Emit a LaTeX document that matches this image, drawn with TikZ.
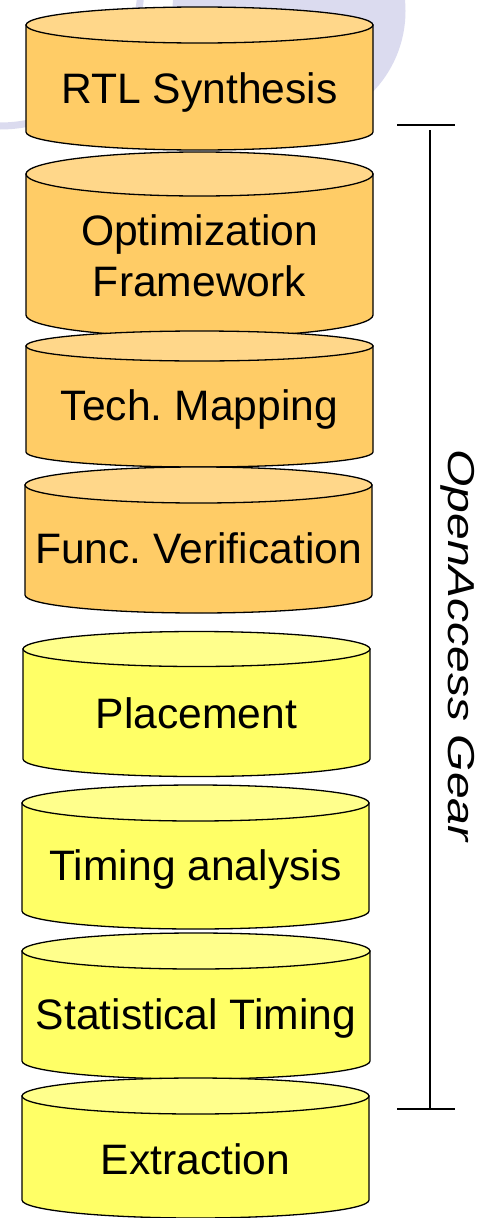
\documentclass[tikz,border=0pt]{standalone}
\usepackage{fontspec}
\setmainfont{Liberation Sans}
\usepackage{graphicx}
\frenchspacing

\definecolor{lav}{RGB}{219,219,239}
\definecolor{goldbody}{RGB}{255,204,102}
\definecolor{goldtop}{RGB}{255,215,138}
\definecolor{lemonbody}{RGB}{255,255,102}
\definecolor{lemontop}{RGB}{255,255,140}

% a drum: #1,#2 left/right x, #3 top centre y, #4 bottom centre y,
% #5 ellipse half height, #6 side colour, #7 lid colour (y given downwards)
\newcommand\drum[7]{%
  \pgfmathsetmacro\drumrx{(#2-#1)/2}%
  \pgfmathsetmacro\drumcx{(#1+#2)/2}%
  \filldraw[drumline, fill=#6] (#1,-#3) -- (#1,-#4)
    arc[start angle=180, end angle=360, x radius=\drumrx pt, y radius=#5 pt]
    -- (#2,-#3) -- cycle;
  \filldraw[drumline, fill=#7] (\drumcx,-#3)
    ellipse[x radius=\drumrx pt, y radius=#5 pt];
}

\begin{document}
\begin{tikzpicture}[x=1pt, y=1pt,
  drumline/.style={draw=black, line width=1.3pt},
  lbl/.style={inner sep=0pt, anchor=base, font=\fontsize{42.6}{50}\selectfont\frenchspacing},
  bracketline/.style={draw=black, line width=1.3pt}]
\useasboundingbox (0,0) rectangle (498,-1218);
\clip (0,0) rectangle (498,-1218);

% background decoration
\fill[lav] (289,-11) circle[radius=116.5pt];
\draw[lav, line width=7pt] (0,15) circle[radius=141pt];

% the stack
\drum{26}{373}{25}{132}{18}{goldbody}{goldtop}
\drum{26}{373}{174}{315}{22}{goldbody}{goldtop}
\drum{26}{373}{346}{452}{15}{goldbody}{goldtop}
\drum{25}{372}{485}{595}{18}{goldbody}{goldtop}
\drum{23}{370}{649}{759}{17.5}{lemonbody}{lemontop}
\drum{22}{369}{803}{911}{18}{lemonbody}{lemontop}
\drum{22}{370}{951}{1061}{18}{lemonbody}{lemontop}
\drum{22}{369}{1096}{1200}{18}{lemonbody}{lemontop}

\node[lbl] (rtl) at (199.5,-103) {RTL Synthesis};
\node[lbl] (opt) at (199.5,-245) {Optimization};
\node[lbl] (fw)  at (199.5,-296) {Framework};
\node[lbl] (tech) at (199.5,-420) {Tech. Mapping};
\node[lbl] (func) at (198.5,-563) {Func. Verification};
\node[lbl] (place) at (196.5,-728) {Placement};
\node[lbl] (timing) at (195.5,-880) {Timing analysis};
\node[lbl] (stat) at (196,-1029) {Statistical Timing};
\node[lbl] (extr) at (195.5,-1174) {Extraction};

% span bracket
\coordinate (btl) at (397,-125);
\coordinate (btr) at (455,-125);
\coordinate (vtop) at (430,-130);
\coordinate (vbot) at (430,-1109);
\coordinate (bbl) at (397,-1109);
\coordinate (bbr) at (455,-1109);
\draw[bracketline] (btl) -- (btr);
\draw[bracketline] (vtop) -- (vbot);
\draw[bracketline] (bbl) -- (bbr);

\node[inner sep=0pt, anchor=base, rotate=-90] (gear) at (448,-645.5)
  {\fontsize{37.5}{45}\selectfont\itshape\scalebox{1.28}[1]{OpenAccess Gear}};
\end{tikzpicture}
\end{document}
